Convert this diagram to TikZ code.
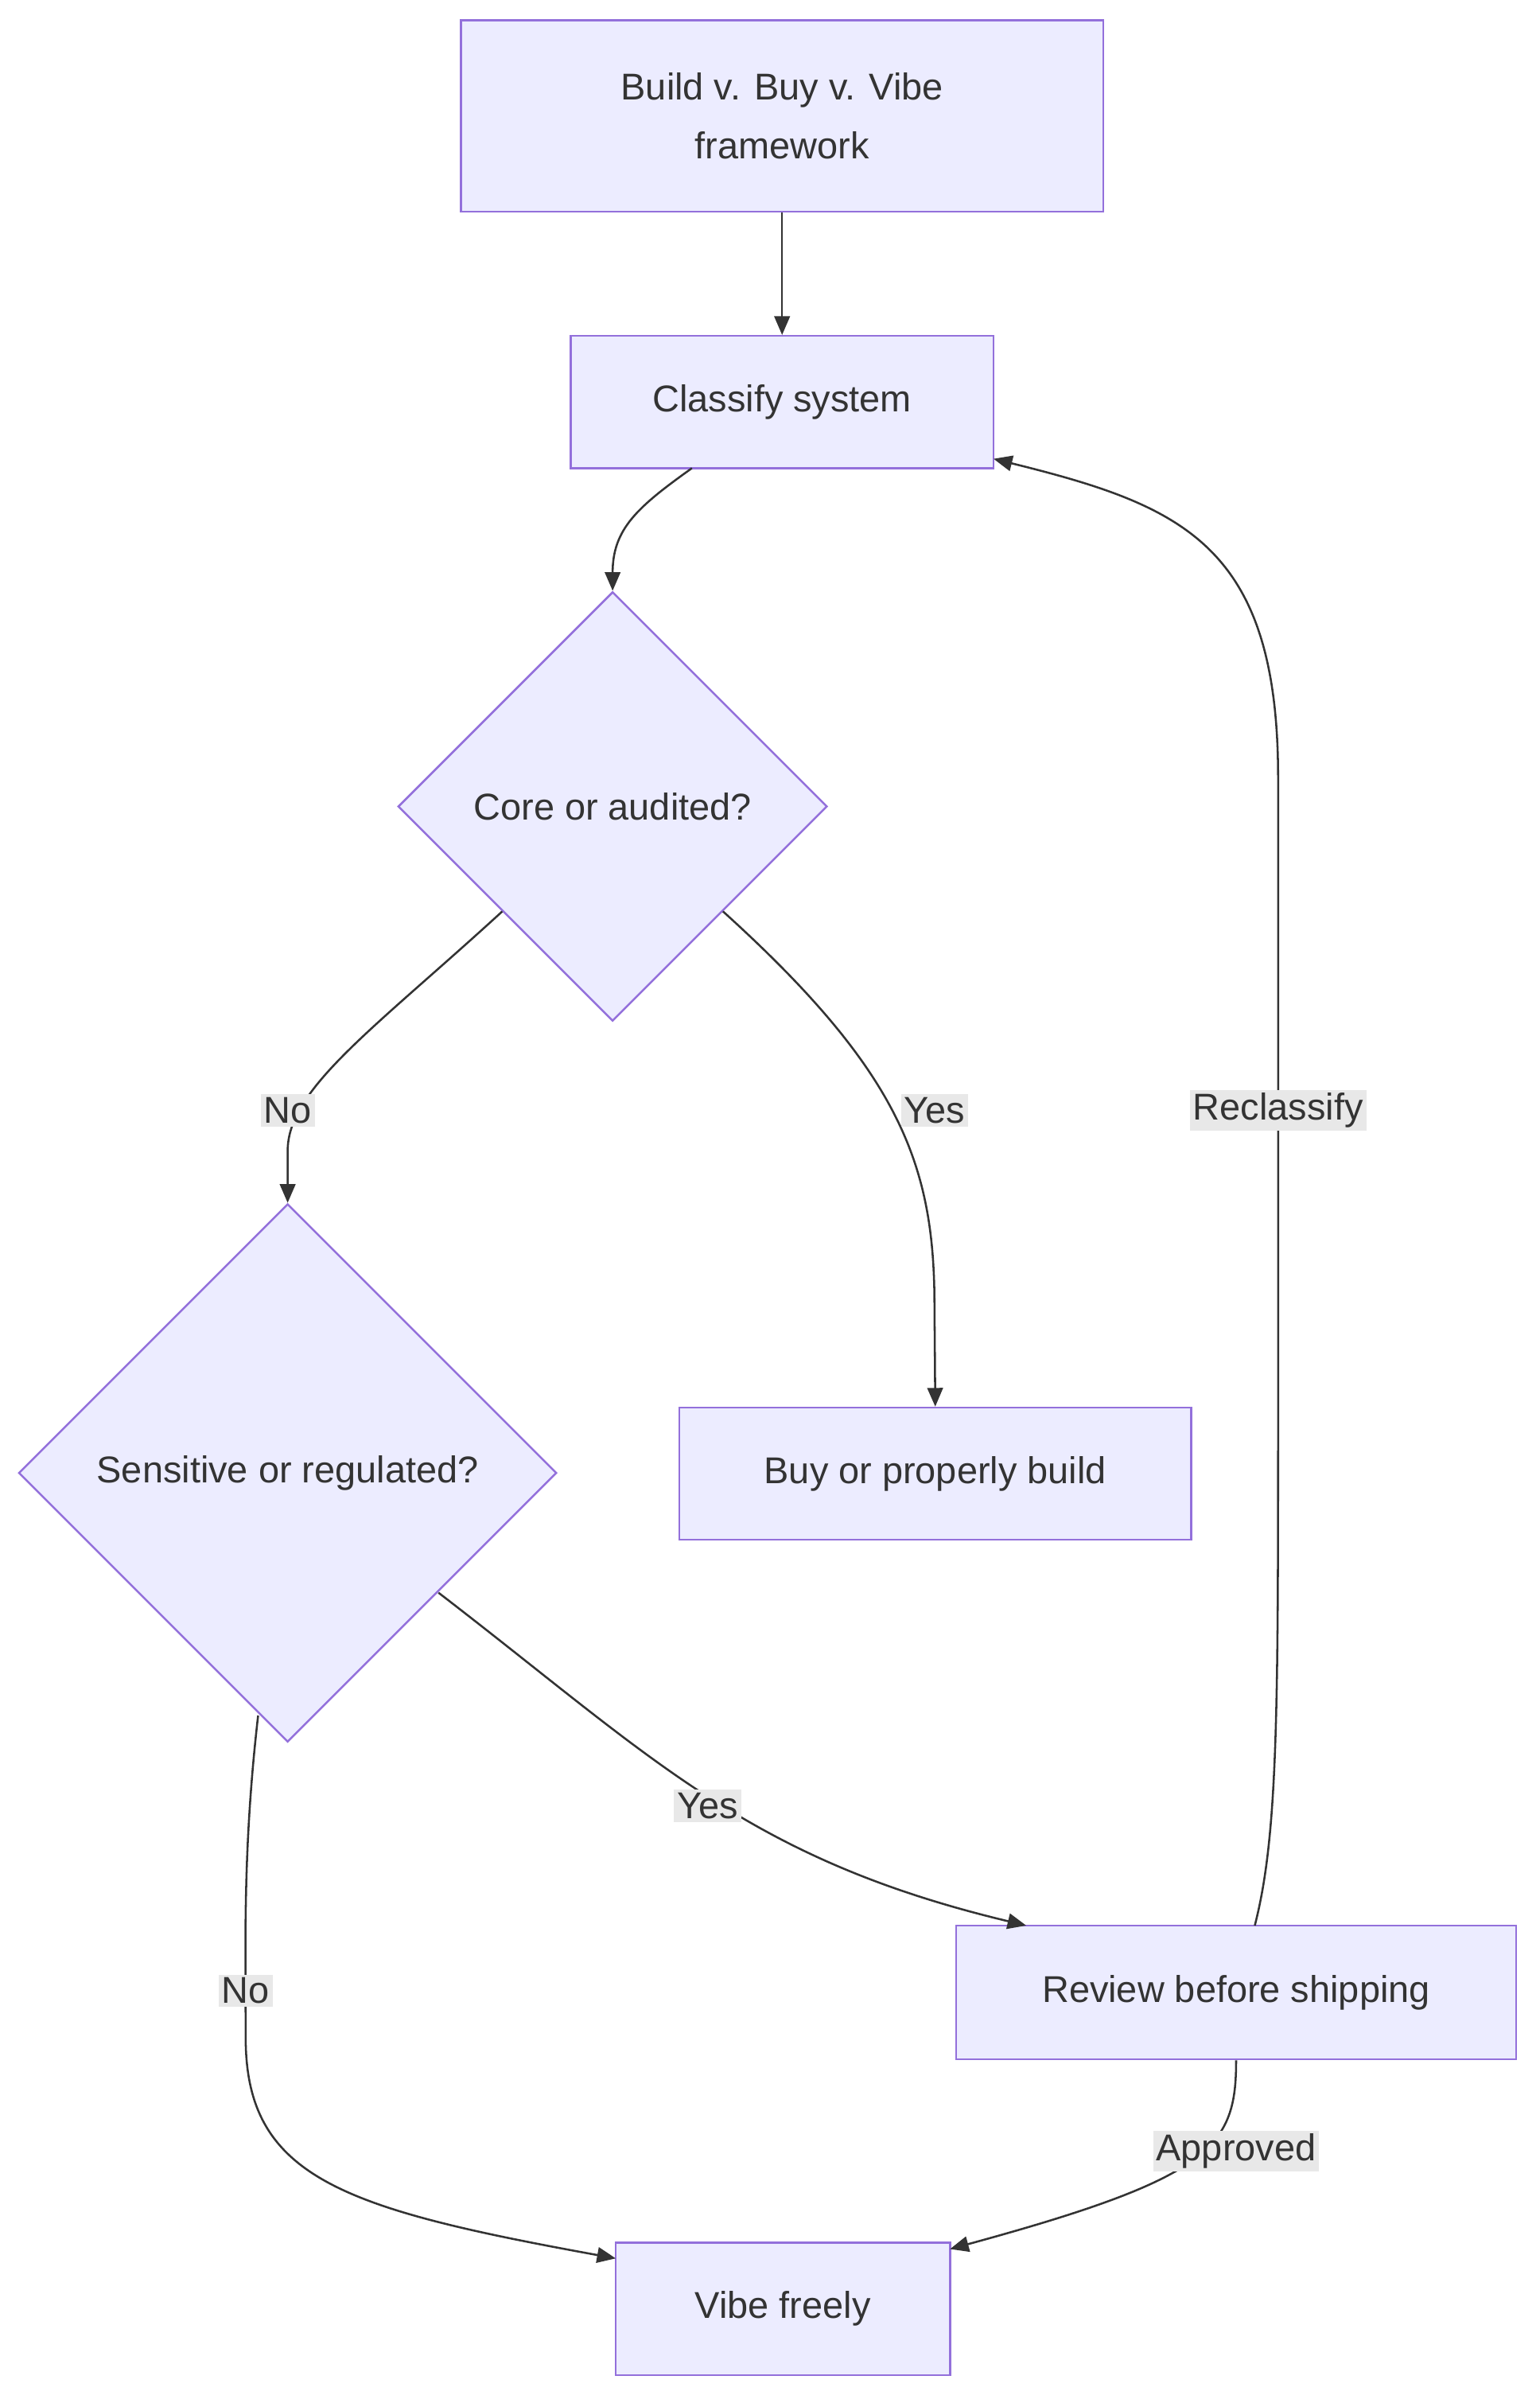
\documentclass[tikz,border=0pt]{standalone}
\usepackage{fontspec}
\setmainfont{Liberation Sans}
\usetikzlibrary{shapes.geometric,arrows.meta}
\definecolor{nfill}{HTML}{ECECFF}
\definecolor{nline}{HTML}{9370DB}
\definecolor{eline}{HTML}{333333}
\definecolor{lfill}{HTML}{E8E8E8}
\begin{document}
\begin{tikzpicture}[x=1pt,y=-1pt,
  every node/.style={font=\fontsize{24}{38}\selectfont, text=eline},
  box/.style={draw=nline, fill=nfill, line width=1.3pt, inner sep=0},
  dia/.style={draw=nline, fill=nfill, line width=1.3pt, diamond, inner sep=0, aspect=1},
  lbl/.style={fill=lfill, inner sep=2pt},
  conn/.style={draw=eline, line width=1.3pt, -{Triangle[length=12pt,width=10pt]}}]
\useasboundingbox (0,0) rectangle (990,1545);
\node[box, minimum width=413pt, minimum height=123pt, align=center] (top) at (503,74.5) {Build v. Buy v. Vibe\\framework};
\node[box, minimum width=272pt, minimum height=85pt] (cls) at (503,258.5) {Classify system};
\node[dia, minimum width=276pt, minimum height=276pt] (d1) at (394,518.5) {Core or audited?};
\node[dia, minimum width=346pt, minimum height=346pt] (d2) at (185,947) {Sensitive or regulated?};
\node[box, minimum width=329pt, minimum height=85pt] (buy) at (601.5,947.5) {Buy or properly build};
\node[box, minimum width=360pt, minimum height=86pt] (rev) at (795,1281) {Review before shipping};
\node[box, minimum width=215pt, minimum height=85pt] (vibe) at (503.5,1484.5) {Vibe freely};

\coordinate (c1) at (445,301);
\coordinate (d1a) at (323,586);
\coordinate (d1b) at (465,586);
\coordinate (d2a) at (282,1024);
\coordinate (d2b) at (166,1103);
\coordinate (r1) at (807,1238);
\coordinate (r2) at (660,1238);
\coordinate (v1) at (396,1452);
\coordinate (v2) at (611,1446);
\coordinate (c2) at (639,295);

\draw[conn] (top.south) -- (cls.north);
\draw[conn] (c1) .. controls (410,326) and (394,340) .. (d1.north);
\draw[conn] (d1a) .. controls (240,662) and (185,700) .. (185,740) -- (d2.north);
\draw[conn] (d1b) .. controls (580,690) and (601,750) .. (601,840) -- (buy.north);
\draw[conn] (d2a) .. controls (420,1130) and (480,1195) .. (r2);
\draw[conn] (d2b) .. controls (156,1190) and (158,1250) .. (158,1310) .. controls (158,1400) and (220,1420) .. (v1);
\draw[conn] (rev.south) .. controls (795,1380) and (780,1400) .. (v2);
\draw[conn] (r1) .. controls (822,1180) and (822,1100) .. (822,900) -- (822,500) .. controls (822,350) and (760,325) .. (c2);

\node[lbl] (l1) at (185,714) {No};
\node[lbl] (l2) at (601,714) {Yes};
\node[lbl] (l3) at (822,714) {Reclassify};
\node[lbl] (l4) at (455,1161) {Yes};
\node[lbl] (l5) at (158,1280) {No};
\node[lbl] (l6) at (795,1383) {Approved};
\end{tikzpicture}
\end{document}
